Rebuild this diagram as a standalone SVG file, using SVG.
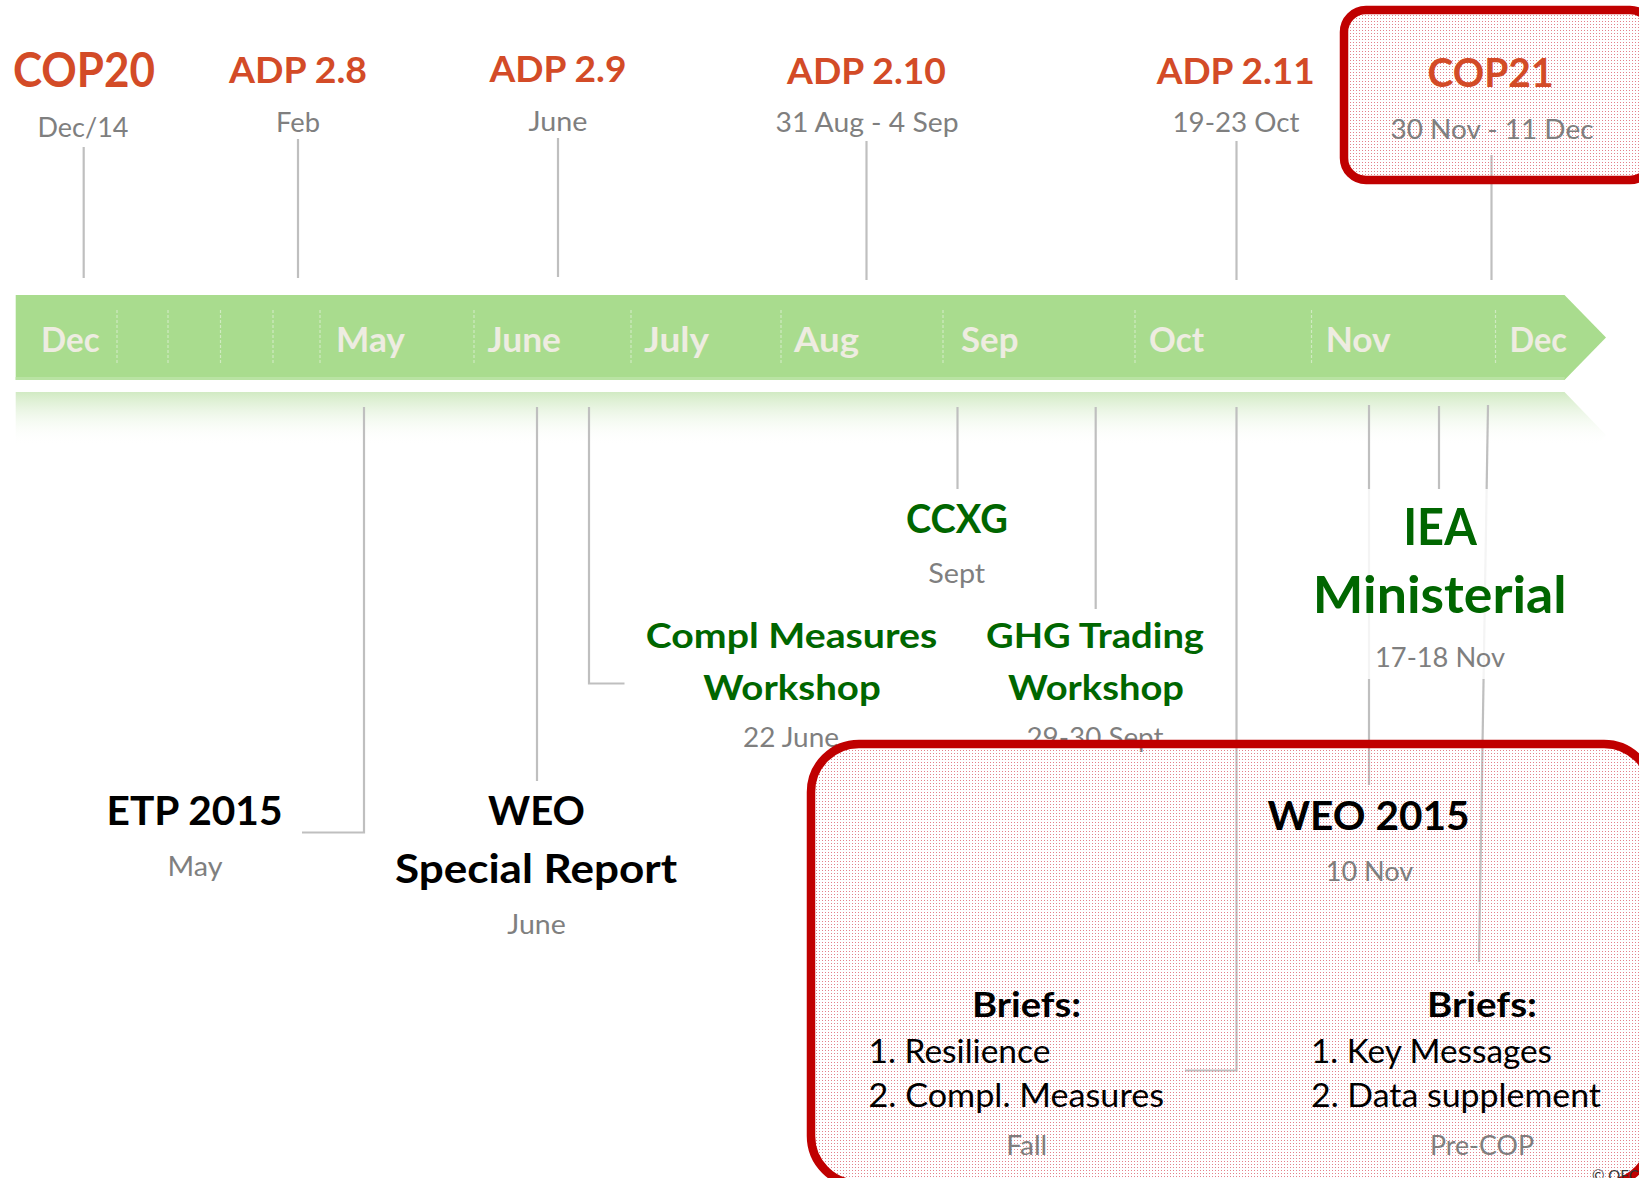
<svg xmlns="http://www.w3.org/2000/svg" width="1639" height="1178" viewBox="0 0 1639 1178">
  <defs>
    <style>
      text { font-family: Lato, "Liberation Sans", sans-serif; }
      .t-red { font-weight: 700; fill: #D34B27; text-anchor: middle; }
      .t-sub { font-weight: 400; fill: #7F7F7F; text-anchor: middle; font-size: 26px; }
      .t-mon { font-weight: 700; fill: #EEECE1; font-size: 34px; }
      .t-grn { font-weight: 700; fill: #006600; text-anchor: middle; }
      .t-blk { font-weight: 700; fill: #000000; text-anchor: middle; }
      .t-item { font-weight: 400; fill: #000000; font-size: 32px; }
      .sep { stroke: #CFEAC0; stroke-width: 1.2; stroke-dasharray: 3 2; fill: none; }
      .link { stroke: #BFBFBF; stroke-width: 2.2; fill: none; }
      .frame { fill: url(#dots); stroke: #C00000; stroke-width: 8.5; }
    </style>
    <pattern id="dots" width="3" height="3" patternUnits="userSpaceOnUse">
      <rect x="0" y="0" width="1" height="1" fill="#E3808A"/>
    </pattern>
    <linearGradient id="reflect" gradientUnits="userSpaceOnUse" x1="0" y1="392" x2="0" y2="446">
      <stop offset="0" stop-color="#D1EAC3" stop-opacity="1"/>
      <stop offset="1" stop-color="#FFFFFF" stop-opacity="0"/>
    </linearGradient>
  </defs>

  <rect width="1639" height="1178" fill="#FFFFFF"/>

  <!-- Timeline arrow with month labels -->
  <g id="timeline">
    <polygon points="15.7,392 1564.5,392 1606,435 1564.5,478 15.7,478" fill="url(#reflect)"/>
    <polygon points="15.7,295 1564.5,295 1606,337.5 1564.5,380 15.7,380" fill="#A9DC8E"/>
    <rect x="15.7" y="377" width="1549" height="3" fill="#B9E3A3"/>
    <g class="sep">
      <path d="M117 310V363M168 310V363M220.5 310V363M273 310V363M320 310V363M474 310V363M631 310V363M781 310V363M943 310V363M1135 310V363M1311.5 310V363M1495.5 310V363"/>
    </g>
    <text class="t-mon" x="41" y="352" textLength="58.6" lengthAdjust="spacingAndGlyphs">Dec</text>
    <text class="t-mon" x="336" y="352" textLength="69" lengthAdjust="spacingAndGlyphs">May</text>
    <text class="t-mon" x="487.5" y="352" textLength="73.5" lengthAdjust="spacingAndGlyphs">June</text>
    <text class="t-mon" x="644" y="352" textLength="65" lengthAdjust="spacingAndGlyphs">July</text>
    <text class="t-mon" x="794" y="352" textLength="65" lengthAdjust="spacingAndGlyphs">Aug</text>
    <text class="t-mon" x="961" y="352" textLength="57.5" lengthAdjust="spacingAndGlyphs">Sep</text>
    <text class="t-mon" x="1149" y="352" textLength="55" lengthAdjust="spacingAndGlyphs">Oct</text>
    <text class="t-mon" x="1325.7" y="352" textLength="65" lengthAdjust="spacingAndGlyphs">Nov</text>
    <text class="t-mon" x="1509.6" y="352" textLength="57.4" lengthAdjust="spacingAndGlyphs">Dec</text>
  </g>

  <!-- Leader lines from events to the timeline -->
  <g id="connectors" class="link">
    <path d="M83.7 147V278"/>
    <path d="M298 139V278"/>
    <path d="M558 138V277"/>
    <path d="M866.5 141V280"/>
    <path d="M1236.5 141V280"/>
    <path d="M1491.5 155V280"/>
    <path d="M364 407V832.5H302"/>
    <path d="M537 407V781"/>
    <path d="M589 407V683.5H624.5"/>
    <path d="M957.5 407V489"/>
    <path d="M1095.7 407V609"/>
    <path d="M1236.5 407V1070.5H1185"/>
    <path d="M1369 405V785"/>
    <path d="M1439 406V489"/>
    <path d="M1488 405L1479 962"/>
  </g>

  <!-- Negotiation sessions above the timeline -->
  <g id="n-cop20">
    <text class="t-red" x="84" y="87" font-size="47" textLength="142" lengthAdjust="spacingAndGlyphs">COP20</text>
    <text class="t-sub" x="83" y="137" textLength="91" lengthAdjust="spacingAndGlyphs">Dec/14</text>
  </g>
  <g id="n-adp28">
    <text class="t-red" x="298" y="83" font-size="37" textLength="138" lengthAdjust="spacingAndGlyphs">ADP 2.8</text>
    <text class="t-sub" x="298" y="132" textLength="44" lengthAdjust="spacingAndGlyphs">Feb</text>
  </g>
  <g id="n-adp29">
    <text class="t-red" x="558" y="82" font-size="37" textLength="137" lengthAdjust="spacingAndGlyphs">ADP 2.9</text>
    <text class="t-sub" x="558" y="131" textLength="59" lengthAdjust="spacingAndGlyphs">June</text>
  </g>
  <g id="n-adp210">
    <text class="t-red" x="866.5" y="83.5" font-size="37" textLength="159" lengthAdjust="spacingAndGlyphs">ADP 2.10</text>
    <text class="t-sub" x="867" y="132" textLength="183" lengthAdjust="spacingAndGlyphs">31 Aug - 4 Sep</text>
  </g>
  <g id="n-adp211">
    <text class="t-red" x="1235.7" y="83.5" font-size="37" textLength="158" lengthAdjust="spacingAndGlyphs">ADP 2.11</text>
    <text class="t-sub" x="1236" y="132" textLength="127" lengthAdjust="spacingAndGlyphs">19-23 Oct</text>
  </g>
  <g id="n-cop21">
    <rect class="frame" x="1344" y="10" width="308" height="170" rx="22"/>
    <text class="t-red" x="1490.5" y="87.3" font-size="41" textLength="126" lengthAdjust="spacingAndGlyphs">COP21</text>
    <text class="t-sub" x="1492" y="138.5" textLength="203" lengthAdjust="spacingAndGlyphs">30 Nov - 11 Dec</text>
  </g>

  <!-- Events below the timeline -->
  <g id="n-etp2015">
    <text class="t-blk" x="194.5" y="825" font-size="40" textLength="176" lengthAdjust="spacingAndGlyphs">ETP 2015</text>
    <text class="t-sub" x="195" y="876" textLength="55" lengthAdjust="spacingAndGlyphs">May</text>
  </g>
  <g id="n-weo-special">
    <text class="t-blk" x="536.5" y="825" font-size="40" textLength="97" lengthAdjust="spacingAndGlyphs">WEO</text>
    <text class="t-blk" x="536" y="883" font-size="40" textLength="282" lengthAdjust="spacingAndGlyphs">Special Report</text>
    <text class="t-sub" x="536.5" y="933.5" textLength="58.5" lengthAdjust="spacingAndGlyphs">June</text>
  </g>
  <g id="n-ccxg">
    <text class="t-grn" x="957" y="533" font-size="40" textLength="102" lengthAdjust="spacingAndGlyphs">CCXG</text>
    <text class="t-sub" x="956.7" y="583" textLength="57" lengthAdjust="spacingAndGlyphs">Sept</text>
  </g>
  <g id="n-compl-workshop">
    <text class="t-grn" x="791.5" y="648.3" font-size="35" textLength="291.5" lengthAdjust="spacingAndGlyphs">Compl Measures</text>
    <text class="t-grn" x="792" y="699.5" font-size="35" textLength="177.5" lengthAdjust="spacingAndGlyphs">Workshop</text>
    <text class="t-sub" x="791" y="747" textLength="96" lengthAdjust="spacingAndGlyphs">22 June</text>
  </g>
  <g id="n-ghg-workshop">
    <text class="t-grn" x="1095" y="648.3" font-size="35" textLength="218" lengthAdjust="spacingAndGlyphs">GHG Trading</text>
    <text class="t-grn" x="1096" y="699.5" font-size="35" textLength="176" lengthAdjust="spacingAndGlyphs">Workshop</text>
    <text class="t-sub" x="1095" y="747" textLength="137" lengthAdjust="spacingAndGlyphs">29-30 Sept</text>
  </g>
  <g id="n-iea-ministerial">
    <rect x="1300" y="489" width="280" height="190" fill="#FFFFFF" fill-opacity="0.82"/>
    <text class="t-grn" x="1440" y="545" font-size="52" textLength="73.6" lengthAdjust="spacingAndGlyphs">IEA</text>
    <text class="t-grn" x="1439.7" y="613.3" font-size="52" textLength="254" lengthAdjust="spacingAndGlyphs">Ministerial</text>
    <text class="t-sub" x="1440" y="667" font-size="28" textLength="130" lengthAdjust="spacingAndGlyphs">17-18 Nov</text>
  </g>

  <!-- Autumn publications frame -->
  <g id="n-publications">
    <rect class="frame" x="811" y="744" width="841" height="440" rx="48"/>
    <text x="1592" y="1181" font-size="15" fill="#333333">© OECD/IEA 2015</text>
  </g>
  <g id="n-weo2015">
    <text class="t-blk" x="1368.5" y="830" font-size="40" textLength="202" lengthAdjust="spacingAndGlyphs">WEO 2015</text>
    <text class="t-sub" x="1369.5" y="880.5" textLength="87.5" lengthAdjust="spacingAndGlyphs">10 Nov</text>
  </g>
  <g id="n-briefs-fall">
    <text class="t-blk" x="1026.5" y="1016.7" font-size="35" textLength="109" lengthAdjust="spacingAndGlyphs">Briefs:</text>
    <text class="t-item" x="868.5" y="1063" textLength="182" lengthAdjust="spacingAndGlyphs">1. Resilience</text>
    <text class="t-item" x="868.5" y="1106.7" textLength="295.5" lengthAdjust="spacingAndGlyphs">2. Compl. Measures</text>
    <text class="t-sub" x="1026.7" y="1155" textLength="41" lengthAdjust="spacingAndGlyphs">Fall</text>
  </g>
  <g id="n-briefs-precop">
    <text class="t-blk" x="1482" y="1016.7" font-size="35" textLength="110" lengthAdjust="spacingAndGlyphs">Briefs:</text>
    <text class="t-item" x="1311" y="1063" textLength="241" lengthAdjust="spacingAndGlyphs">1. Key Messages</text>
    <text class="t-item" x="1311" y="1106.7" textLength="290" lengthAdjust="spacingAndGlyphs">2. Data supplement</text>
    <text class="t-sub" x="1482" y="1155" textLength="104" lengthAdjust="spacingAndGlyphs">Pre-COP</text>
  </g>
</svg>
